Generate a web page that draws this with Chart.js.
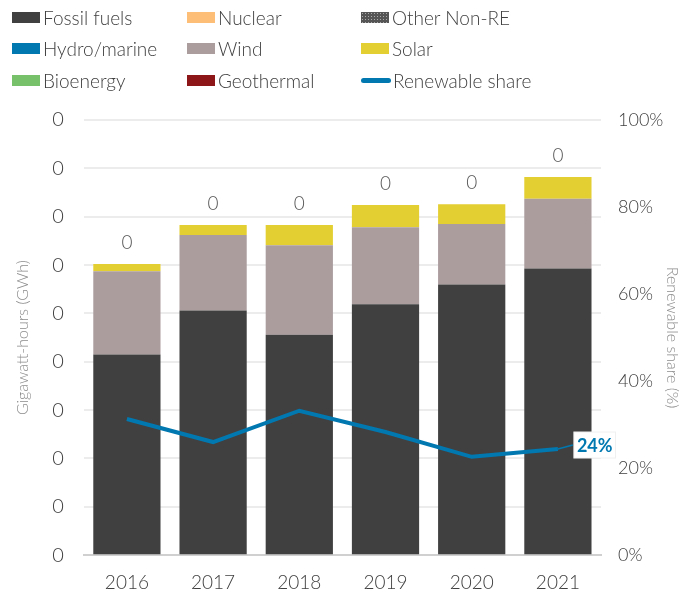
<!DOCTYPE html>
<html>
<head>
<meta charset="utf-8">
<script src="https://cdn.jsdelivr.net/npm/chart.js@4"></script>
<style>
  body { margin: 0; background: #fff; font-family: Lato, 'Open Sans', sans-serif; }
  #wrap { position: relative; width: 697px; height: 595px; overflow: hidden; }
  #legend { position: absolute; top: 0; left: 0; width: 697px; height: 95px; z-index: 1; }
  .item { position: absolute; display: flex; align-items: center; font-size: 19px; font-weight: 300; color: #404040; white-space: nowrap; }
  .box { width: 28px; height: 11px; margin-right: 3px; }
  .ln { width: 30px; height: 5px; border-radius: 3px; margin-right: 2px; }
  #chartBox { position: absolute; top: 88px; left: 0; width: 697px; height: 518px; }
</style>
</head>
<body>
<div id="wrap">
  <div id="legend"></div>
  <div id="chartBox"><canvas id="chart"></canvas></div>
</div>
<script>
const YEARS = ['2016', '2017', '2018', '2019', '2020', '2021']

// generation, GWh
const FOSSIL = [0.0415, 0.0506, 0.0456, 0.0519, 0.0560, 0.0593]
const NUCLEAR = [0, 0, 0, 0, 0, 0]
const OTHER_NON_RE = [0, 0, 0, 0, 0, 0]
const HYDRO = [0, 0, 0, 0, 0, 0]
const WIND = [0.0172, 0.0156, 0.0185, 0.0159, 0.0125, 0.0144]
const SOLAR = [0.0015, 0.0021, 0.0042, 0.0046, 0.0041, 0.0045]
const BIOENERGY = [0, 0, 0, 0, 0, 0]
const GEOTHERMAL = [0, 0, 0, 0, 0, 0]

// renewable share, %
const RE_SHARE = [31.3, 26.0, 33.2, 28.3, 22.6, 24.4]

const LEGEND_ORDER = [
  ['Fossil fuels', '#404040'], ['Nuclear', '#fdbf78'], ['Other Non-RE', 'pattern'],
  ['Hydro/marine', '#0178b0'], ['Wind', '#ab9c9e'], ['Solar', '#e4cf32'],
  ['Bioenergy', '#77c16a'], ['Geothermal', '#8d1618'], ['Renewable share', 'line']
]

const legendEl = document.getElementById('legend')
const colX = [12, 187, 361]
const rowY = [17, 48, 80]
LEGEND_ORDER.forEach(([name, color], i) => {
  const div = document.createElement('div')
  div.className = 'item'
  div.style.left = colX[i % 3] + 'px'
  div.style.top = (rowY[Math.floor(i / 3)] - 12) + 'px'
  div.style.height = '24px'
  let sw
  if (color === 'line') {
    sw = '<span class="ln" style="background:#0178b0"></span>'
  } else if (color === 'pattern') {
    sw = '<span class="box" style="background:#555 radial-gradient(#aaa 0.8px, transparent 1px) 0 0/3px 3px"></span>'
  } else {
    sw = `<span class="box" style="background:${color}"></span>`
  }
  div.innerHTML = sw + name
  legendEl.appendChild(div)
})

const barDs = (label, data, color) => ({
  type: 'bar', label, data, backgroundColor: color, stack: 'gen', yAxisID: 'y',
  barPercentage: 0.78, categoryPercentage: 1, order: 2
})

const overlayPlugin = {
  id: 'overlay',
  afterDatasetsDraw (chart) {
    const { ctx } = chart
    const y = chart.scales.y
    const x = chart.scales.x
    ctx.save()
    ctx.font = '300 19px Lato, "Open Sans", sans-serif'
    ctx.fillStyle = '#595959'
    ctx.textAlign = 'center'
    ctx.textBaseline = 'bottom'
    YEARS.forEach((yr, i) => {
      const total = FOSSIL[i] + NUCLEAR[i] + OTHER_NON_RE[i] + HYDRO[i] + WIND[i] + SOLAR[i] + BIOENERGY[i] + GEOTHERMAL[i]
      ctx.fillText(total.toFixed(0), x.getPixelForValue(i), y.getPixelForValue(total) - 12)
    })
    // end label for renewable share
    const meta = chart.getDatasetMeta(chart.data.datasets.length - 1)
    const last = meta.data[meta.data.length - 1]
    const text = Math.round(RE_SHARE[RE_SHARE.length - 1]) + '%'
    ctx.font = 'bold 18px Lato, "Open Sans", sans-serif'
    const w = ctx.measureText(text).width
    const bx = last.x + 18
    const by = last.y - 4
    ctx.strokeStyle = '#0178b0'
    ctx.lineWidth = 1.5
    ctx.beginPath()
    ctx.moveTo(last.x, last.y)
    ctx.lineTo(bx - 3, by)
    ctx.stroke()
    ctx.fillStyle = '#fff'
    ctx.fillRect(bx - 2, by - 13, w + 6, 26)
    ctx.strokeStyle = '#f0f0f0'
    ctx.lineWidth = 1
    ctx.strokeRect(bx - 2, by - 13, w + 6, 26)
    ctx.fillStyle = '#0178b0'
    ctx.textAlign = 'left'
    ctx.textBaseline = 'middle'
    ctx.fillText(text, bx + 1, by + 1)
    ctx.restore()
  }
}

const chart = new Chart(document.getElementById('chart'), {
  data: {
    labels: YEARS,
    datasets: [
      barDs('Fossil fuels', FOSSIL, '#404040'),
      barDs('Nuclear', NUCLEAR, '#fdbf78'),
      barDs('Other Non-RE', OTHER_NON_RE, '#555555'),
      barDs('Hydro/marine', HYDRO, '#0178b0'),
      barDs('Wind', WIND, '#ab9c9e'),
      barDs('Solar', SOLAR, '#e4cf32'),
      barDs('Bioenergy', BIOENERGY, '#77c16a'),
      barDs('Geothermal', GEOTHERMAL, '#8d1618'),
      {
        type: 'line', label: 'Renewable share', data: RE_SHARE, yAxisID: 'y1',
        borderColor: '#0178b0', borderWidth: 4, pointRadius: 0, tension: 0, order: 1
      }
    ]
  },
  options: {
    responsive: true,
    maintainAspectRatio: false,
    animation: false,
    layout: { padding: { top: 5, right: 12, left: 13, bottom: 4 } },
    plugins: { legend: { display: false }, tooltip: { enabled: false } },
    scales: {
      x: {
        stacked: true,
        grid: { display: false },
        border: { color: '#d0d0d0', width: 2 },
        ticks: { color: '#404040', font: { size: 19, family: 'Lato', weight: 300 }, padding: 8 }
      },
      y: {
        stacked: true,
        position: 'left',
        min: 0,
        max: 0.09,
        ticks: {
          stepSize: 0.01,
          color: '#404040',
          font: { size: 20, family: 'Lato', weight: 300 },
          padding: 20,
          callback: (v) => Number(v).toFixed(0)
        },
        grid: { color: '#ececec', lineWidth: 2, drawTicks: false },
        border: { display: false },
        title: { display: true, text: 'Gigawatt-hours (GWh)', color: '#8c8c8c', font: { size: 16, family: 'Lato', weight: 300 }, padding: 0 }
      },
      y1: {
        position: 'right',
        min: 0,
        max: 100,
        afterFit: (axis) => { axis.width = 84 },
        ticks: {
          stepSize: 20,
          color: '#404040',
          font: { size: 18, family: 'Lato', weight: 300 },
          padding: 17,
          callback: (v) => v + '%'
        },
        grid: { display: false, drawTicks: false },
        border: { display: false },
        title: { display: true, text: 'Renewable share (%)', color: '#8c8c8c', font: { size: 16, family: 'Lato', weight: 300 }, padding: 3 }
      }
    }
  },
  plugins: [overlayPlugin]
})
</script>
</body>
</html>
